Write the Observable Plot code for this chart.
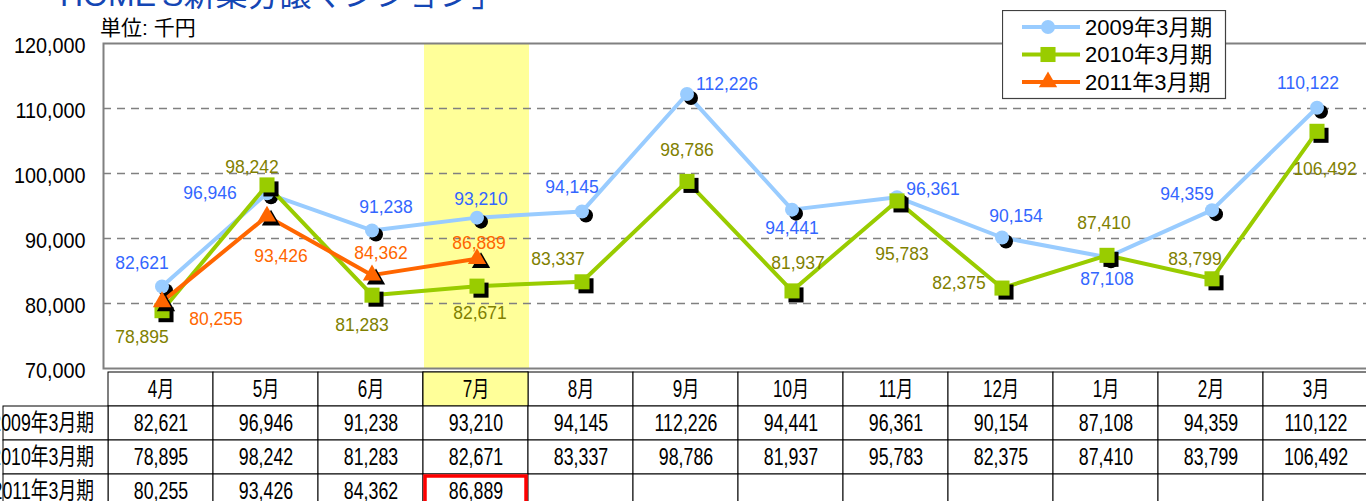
<!DOCTYPE html>
<html><head><meta charset="utf-8">
<script src="https://cdn.jsdelivr.net/npm/d3@7"></script>
<script src="https://cdn.jsdelivr.net/npm/@observablehq/plot@0.6"></script>
<style>
html,body{margin:0;padding:0;background:#fff;}
#wrap{position:relative;width:1366px;height:501px;overflow:hidden;font-family:"Liberation Sans",Arial,"Noto Sans CJK JP",sans-serif;}
#title{position:absolute;left:28px;top:-21px;font-size:32px;line-height:32px;color:#1446b4;white-space:nowrap;}
#unit{position:absolute;left:100px;top:16px;font-size:21px;line-height:24px;color:#000;white-space:nowrap;}
#chart{position:absolute;left:0;top:0;}
#table{position:absolute;left:0;top:370px;}
#legend{position:absolute;left:1002px;top:10px;}
svg{display:block;}
</style></head>
<body><div id="wrap">
<div id="chart"></div>
<div id="title">「HOME'S新築分譲マンション」</div>
<div id="unit">単位: 千円</div>
<div id="table"></div>
<div id="legend"></div>
</div>
<script>
// ---- data ----
const months = ["4月","5月","6月","7月","8月","9月","10月","11月","12月","1月","2月","3月"];
const seriesNames = ["2009年3月期","2010年3月期","2011年3月期"];
const values2009 = [82621,96946,91238,93210,94145,112226,94441,96361,90154,87108,94359,110122];
const values2010 = [78895,98242,81283,82671,83337,98786,81937,95783,82375,87410,83799,106492];
const values2011 = [80255,93426,84362,86889];
const yTicks = [70000,80000,90000,100000,110000,120000];
const highlightMonth = "7月";

// ---- label placement (pixel offsets, layout only) ----
const labelOffsets2009 = [[-20,-23],[-57,0],[14,-23],[4,-18],[-10,-24],[40,-10],[0,19],[36,-8],[14,-21],[0,22],[-25,-16],[-9,-24]];
const labelOffsets2010 = [[-20,27],[-15,-18],[-10,30],[3,27],[-24,-22],[0,-31],[6,-28],[5,53],[-43,-5],[-3,-32],[-17,-19],[8,38]];
const labelOffsets2011 = [[54,18],[14,40],[9,-22],[2,-15]];

const fmt = d3.format(",");
const FONT = '"Liberation Sans", Arial, "Noto Sans CJK JP", sans-serif';

const series = [
  {name: seriesNames[0], values: values2009, line: "#99ccff", label: "#3366ff", symbol: "circle", r: 7, offsets: labelOffsets2009},
  {name: seriesNames[1], values: values2010, line: "#99cc00", label: "#808000", symbol: "square", r: 8.5, offsets: labelOffsets2010},
  {name: seriesNames[2], values: values2011, line: "#ff6600", label: "#ff6600", symbol: "triangle", r: 6.8, offsets: labelOffsets2011}
];

// ---- main chart ----
const marks = [];
marks.push(Plot.barY([highlightMonth], {x: d => d, y1: yTicks[0], y2: yTicks[yTicks.length - 1], fill: "#ffff99"}));
marks.push(Plot.ruleY(yTicks.slice(1, -1), {stroke: "#808080", strokeWidth: 1.5, strokeDasharray: "8,6"}));
marks.push(Plot.frame({stroke: "#808080", strokeWidth: 2}));
marks.push(Plot.axisY({ticks: yTicks, tickSize: 0, tickPadding: 18, tickFormat: fmt, fontSize: 22, dy: 2, label: null}));
series.forEach(s => {
  const data = s.values.map((v, i) => ({month: months[i], value: v}));
  marks.push(Plot.line(data, {x: "month", y: "value", stroke: s.line, strokeWidth: 4}));
  marks.push(Plot.dot(data, {x: "month", y: "value", symbol: s.symbol, r: s.r, fill: "black", dx: 4, dy: 4}));
  marks.push(Plot.dot(data, {x: "month", y: "value", symbol: s.symbol, r: s.r, fill: s.line}));
});
series.forEach(s => {
  s.values.forEach((v, i) => {
    marks.push(Plot.text([{month: months[i], value: v}], {
      x: "month", y: "value", text: d => fmt(d.value),
      dx: s.offsets[i][0], dy: s.offsets[i][1], fill: s.label, fontSize: 17.5
    }));
  });
});

const chart = Plot.plot({
  width: 1366, height: 370,
  marginLeft: 103, marginRight: -8, marginTop: 43, marginBottom: 2,
  x: {domain: months, range: [103, 1374], padding: 0, axis: null},
  y: {domain: [yTicks[0], yTicks[yTicks.length - 1]], range: [368, 43], label: null},
  style: {fontFamily: FONT, fontSize: "22px", color: "black", background: "transparent", overflow: "visible"},
  marks
});
document.getElementById("chart").append(chart);

// ---- data table ----
const rowHeader = "header";
const labelCol = "";
const valueCells = [];
series.forEach(s => months.forEach((m, i) => valueCells.push({month: m, row: s.name, value: s.values[i]})));
const tableChart = Plot.plot({
  width: 1366, height: 131,
  marginLeft: 0, marginRight: 0, marginTop: 0, marginBottom: 0,
  x: {domain: [labelCol, ...months], range: [-2.9, 1374], padding: 0, axis: null},
  y: {domain: [rowHeader, ...seriesNames], range: [0, 139], padding: 0, axis: null},
  style: {fontFamily: FONT, fontSize: "24px", color: "black", background: "transparent"},
  marks: [
    Plot.cell(months, {x: d => d, y: () => rowHeader, fill: "white", stroke: "black"}),
    Plot.cell([highlightMonth], {x: d => d, y: () => rowHeader, fill: "#ffff99", stroke: "black"}),
    Plot.cell(valueCells, {x: "month", y: "row", fill: "white", stroke: "black"}),
    Plot.cell(seriesNames, {x: () => labelCol, y: d => d, fill: "white", stroke: "black"}),
    Plot.text(months, {x: d => d, y: () => rowHeader, text: d => d, fontSize: 23, fill: "black"}),
    Plot.text(valueCells.filter(d => d.value != null), {x: "month", y: "row", text: d => fmt(d.value), fontSize: 24, fill: "black"}),
    Plot.text(seriesNames, {x: () => labelCol, y: d => d, text: d => d, textAnchor: "end", dx: 38, fontSize: 24, fill: "black"}),
    Plot.cell([{month: highlightMonth, row: seriesNames[2]}], {x: "month", y: "row", fill: "none", stroke: "#ff0000", strokeWidth: 3.5, inset: 2})
  ]
});
document.getElementById("table").append(tableChart);

// squeeze text horizontally like the reference
function squeeze(nodes, k) {
  nodes.forEach(t => {
    const L = t.getComputedTextLength();
    t.setAttribute("textLength", (L * k).toFixed(1));
    t.setAttribute("lengthAdjust", "spacingAndGlyphs");
  });
}
squeeze(tableChart.querySelectorAll("text"), 0.74);
squeeze(chart.querySelectorAll('g[aria-label="y-axis tick label"] text'), 0.9);

// ---- legend ----
const leg = d3.create("svg").attr("width", 225).attr("height", 90);
leg.append("rect").attr("x", 0.5).attr("y", 0.5).attr("width", 223).attr("height", 88)
  .attr("fill", "white").attr("stroke", "#404040").attr("stroke-width", 1.2);
const symMap = {circle: d3.symbolCircle, square: d3.symbolSquare, triangle: d3.symbolTriangle};
series.forEach((s, k) => {
  const yy = 17 + k * 27.5;
  leg.append("line").attr("x1", 20).attr("x2", 78).attr("y1", yy).attr("y2", yy)
    .attr("stroke", s.line).attr("stroke-width", 4);
  leg.append("path").attr("transform", `translate(46,${yy})`)
    .attr("d", d3.symbol(symMap[s.symbol], Math.PI * s.r * s.r)())
    .attr("fill", s.line);
  leg.append("text").attr("x", 83).attr("y", yy).attr("dy", "0.36em")
    .attr("font-family", FONT).attr("font-size", 22).attr("fill", "black").text(s.name);
});
document.getElementById("legend").append(leg.node());
</script>
</body></html>
